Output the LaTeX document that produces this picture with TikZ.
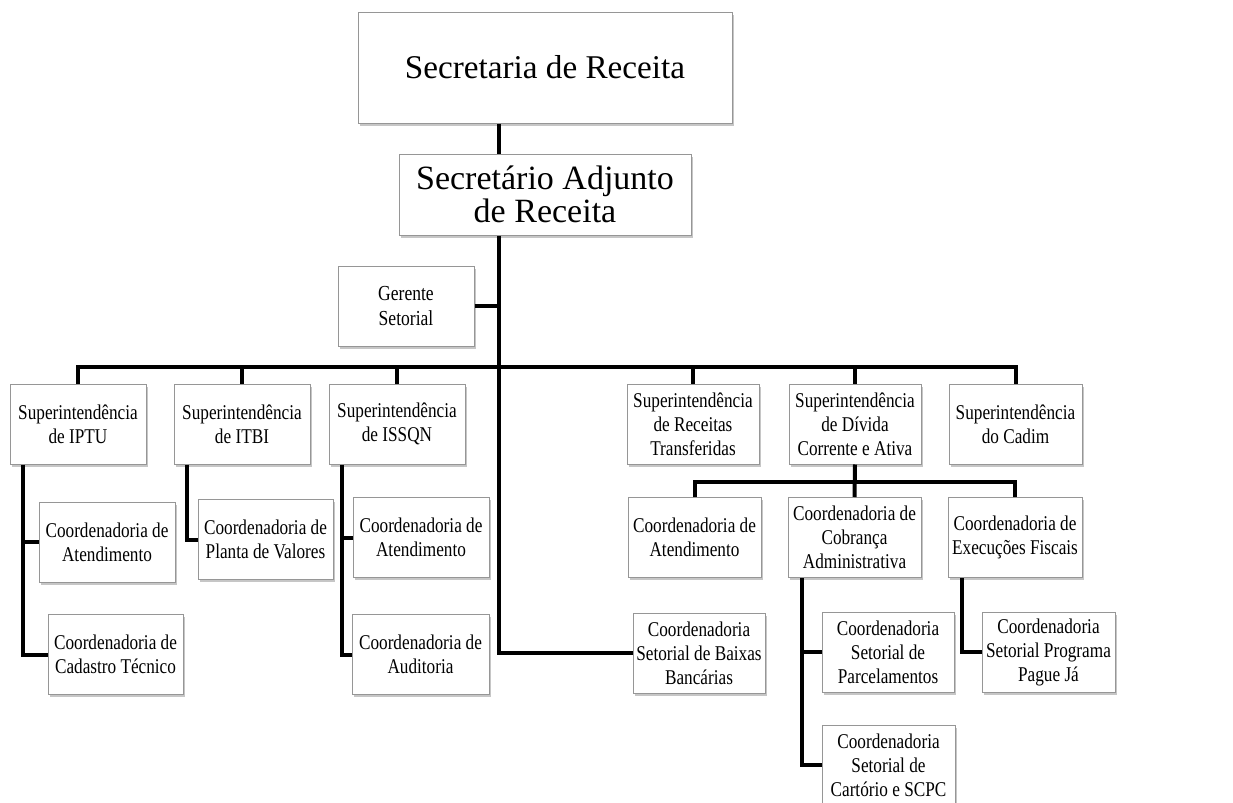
\documentclass[tikz,border=0pt]{standalone}
\usepackage{fontspec}
\setmainfont{Liberation Serif}
\newfontfamily\narrowserif[FakeStretch=0.82]{Liberation Serif}
\usetikzlibrary{shadows}
\definecolor{boxgray}{RGB}{150,150,150}

\begin{document}
\begin{tikzpicture}[x=0.5pt,y=-0.5pt,
  unit/.style={draw=boxgray,line width=0.5pt,fill=white,align=center,inner sep=1pt,
    drop shadow={shadow xshift=0.8pt,shadow yshift=-1.4pt,fill=gray,opacity=0.45},
    font=\narrowserif\fontsize{10.5}{12}\selectfont,minimum width=67pt,minimum height=40pt},
  link/.style={line width=2pt,line join=miter}]
  \useasboundingbox (0,0) rectangle (1233,803);

  % top levels
  \node[unit,minimum width=187pt,minimum height=55.5pt,font=\fontsize{16.6}{20}\selectfont] (sr) at (545,67.5) {Secretaria de Receita};
  \node[unit,minimum width=146pt,minimum height=40.5pt,font=\fontsize{17}{13.5}\selectfont] (sa) at (545,194.5) {Secretário Adjunto\\de Receita};
  \node[unit,minimum width=68pt,font=\narrowserif\fontsize{10.7}{12.5}\selectfont] (gs) at (406,306) {Gerente\\Setorial};

  % superintendencias
  \node[unit,minimum width=68pt] (s1) at (78,424) {Superintendência\\de IPTU};
  \node[unit,minimum width=68pt] (s2) at (242,424) {Superintendência\\de ITBI};
  \node[unit,minimum width=68pt] (s3) at (397,424) {Superintendência\\de ISSQN};
  \node[unit,minimum width=66pt] (s4) at (693,424) {Superintendência\\de Receitas\\Transferidas};
  \node[unit,minimum width=66pt] (s5) at (855,424) {Superintendência\\de Dívida\\Corrente e Ativa};
  \node[unit,minimum width=66.5pt] (s6) at (1015.5,424) {Superintendência\\do Cadim};

  % coordenadorias
  \node[unit,minimum width=68pt] (c11) at (107,542) {Coordenadoria de\\Atendimento};
  \node[unit,minimum width=67.5pt] (c12) at (115.5,654.5) {Coordenadoria de\\Cadastro Técnico};
  \node[unit,minimum width=67.5pt] (c21) at (265.5,539.5) {Coordenadoria de\\Planta de Valores};
  \node[unit,minimum width=68pt] (c31) at (421,537.5) {Coordenadoria de\\Atendimento};
  \node[unit,minimum width=68.5pt] (c32) at (420.5,654.5) {Coordenadoria de\\Auditoria};
  \node[unit,minimum width=66pt] (c41) at (699,653) {Coordenadoria\\Setorial de Baixas\\Bancárias};
  \node[unit,minimum width=66.5pt] (c51) at (694.5,537.5) {Coordenadoria de\\Atendimento};
  \node[unit,minimum width=66.5pt] (c52) at (854.5,537.5) {Coordenadoria de\\Cobrança\\Administrativa};
  \node[unit,minimum width=67pt] (c53) at (1015,537.5) {Coordenadoria de\\Execuções Fiscais};
  \node[unit,minimum width=66pt] (c521) at (888,652) {Coordenadoria\\Setorial de\\Parcelamentos};
  \node[unit,minimum width=66.5pt] (c522) at (888.5,765) {Coordenadoria\\Setorial de\\Cartório e SCPC};
  \node[unit,minimum width=66.5pt] (c531) at (1048.5,652) {Coordenadoria\\Setorial Programa\\Pague Já};

  \coordinate (trunk) at (499,367);
  \coordinate (bus2) at (854,482);
  \coordinate (s1stem) at ([xshift=6.5pt]s1.south west);
  \coordinate (s2stem) at ([xshift=6.5pt]s2.south west);
  \coordinate (s3stem) at ([xshift=6.5pt]s3.south west);
  \coordinate (c52stem) at ([xshift=7pt]c52.south west);
  \coordinate (c53stem) at ([xshift=7pt]c53.south west);

  % main line
  \draw[link] (sr.south -| trunk) -- (sa.north -| trunk);
  \draw[link] (sa.south -| trunk) -- (trunk |- c41.west) -- (c41.west);
  \draw[link] (gs.east) -- (gs.east -| trunk);
  \draw[link] (s1.north) |- (trunk) -| (s6.north);
  \foreach \s in {s2,s3,s4,s5}
    \draw[link] (\s.north) -- (\s.north |- trunk);

  % branches
  \draw[link] (s1stem) |- (c12.west);
  \draw[link] (c11.west) -- (c11.west -| s1stem);
  \draw[link] (s2stem) |- (c21.west);
  \draw[link] (s3stem) |- (c32.west);
  \draw[link] (c31.west) -- (c31.west -| s3stem);
  \draw[link] (s5.south) -- (c52.north);
  \draw[link] (c51.north) |- (bus2) -| (c53.north);
  \draw[link] (c52stem) |- (c522.west);
  \draw[link] (c521.west) -- (c521.west -| c52stem);
  \draw[link] (c53stem) |- (c531.west);
\end{tikzpicture}
\end{document}
